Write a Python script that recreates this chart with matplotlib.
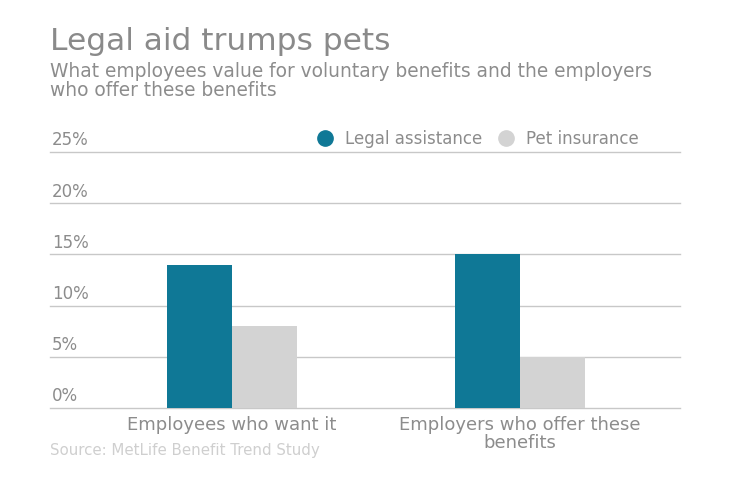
import numpy as np
import matplotlib.pyplot as plt
from matplotlib.lines import Line2D

categories = ['Employees who want it', 'Employers who offer these\nbenefits']
legal = [14, 15]
pet = [8, 5]
yticks = [0, 5, 10, 15, 20, 25]

teal = '#0f7896'
lgray = '#d3d3d3'
txt = '#8c8c8c'

plt.rcParams['font.family'] = 'DejaVu Sans'

fig = plt.figure(figsize=(7.4, 4.82), dpi=100)
W, H = 740, 482
ax = fig.add_axes([50 / W, 1 - 408 / H, 630 / W, 256 / H])

x = np.arange(len(categories))
bw = 0.226
ax.bar(x - bw / 2, legal, bw, color=teal, zorder=3)
ax.bar(x + bw / 2, pet, bw, color=lgray, zorder=3)

ax.set_xlim(-0.632, 1.556)
ax.set_ylim(0, 25)
ax.set_yticks(yticks)
ax.set_yticklabels([])
for v in yticks:
    ax.axhline(v, color='#c8c8c8', lw=1, zorder=1, clip_on=False)
    ax.text(2 / 630, v + 0.25, f'{v}%', transform=ax.get_yaxis_transform(),
            ha='left', va='bottom', fontsize=12, color=txt)
ax.set_xticks(x)
ax.set_xticklabels(categories, fontsize=13, color=txt, linespacing=1.0)
ax.tick_params(length=0, pad=6)
for s in ax.spines.values():
    s.set_visible(False)

handles = [Line2D([], [], marker='o', ls='', color=teal, markersize=11),
           Line2D([], [], marker='o', ls='', color=lgray, markersize=11)]
leg = fig.legend(handles, ['Legal assistance', 'Pet insurance'],
                 loc='center left', bbox_to_anchor=(308 / W, 1 - 139 / H),
                 ncol=2, frameon=False, fontsize=12, handletextpad=0.2,
                 columnspacing=0.45, borderaxespad=0, borderpad=0)
for t in leg.get_texts():
    t.set_color(txt)

fig.text(50 / W, 1 - 42 / H, 'Legal aid trumps pets', fontsize=22.5, color='#8a8a8a',
         va='center', ha='left')
fig.text(50 / W, 1 - 81 / H,
         'What employees value for voluntary benefits and the employers\nwho offer these benefits',
         fontsize=13.4, color=txt, va='center', ha='left', linespacing=0.95)
fig.text(50 / W, 1 - 451 / H, 'Source: MetLife Benefit Trend Study', fontsize=10.8,
         color='#cfcfcf', va='center', ha='left')

fig.savefig('out.png', dpi=100)
